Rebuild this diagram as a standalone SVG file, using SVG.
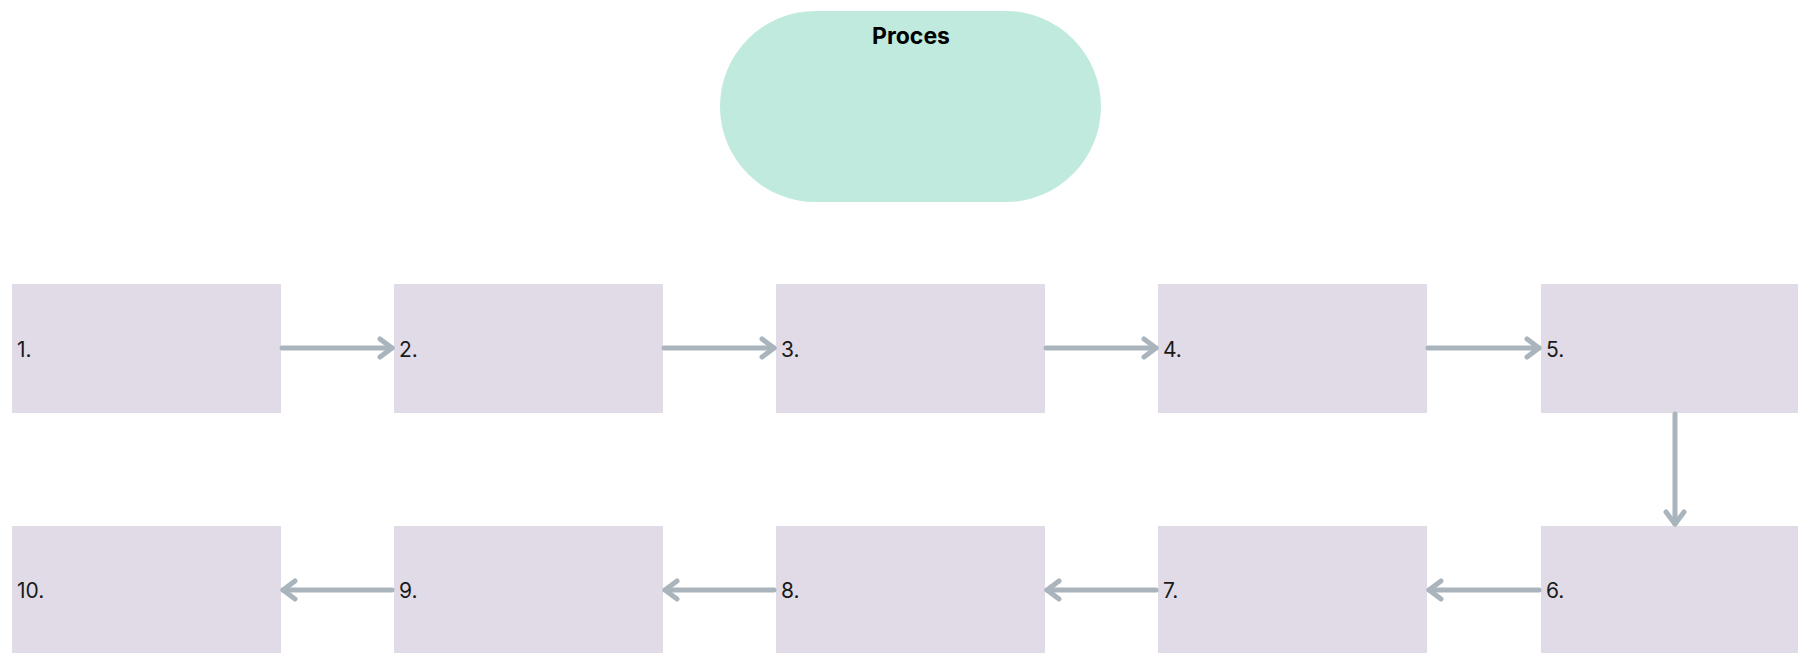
<svg xmlns="http://www.w3.org/2000/svg" width="1798" height="653" viewBox="0 0 1798 653">
<style>
.box{fill:#e0dbe6}
.lbl{font-family:Inter,"Liberation Sans",sans-serif;font-size:21px;fill:#1a1a1a}
.title{font-family:Inter,"Liberation Sans",sans-serif;font-size:23px;font-weight:bold;fill:#000;text-anchor:middle}
.con{stroke:#a9b4bc;stroke-width:5;fill:none;stroke-linecap:round;stroke-linejoin:round}
</style>
<defs>
<marker id="arr" viewBox="0 0 18 24" refX="15" refY="12" markerWidth="18" markerHeight="24" markerUnits="userSpaceOnUse" orient="auto">
<path d="M3,3 L15,12 L3,21" fill="none" stroke="#a9b4bc" stroke-width="5" stroke-linecap="round" stroke-linejoin="round"/>
</marker>
</defs>
<rect width="1798" height="653" fill="#fff"/>
<g id="title">
<rect x="720" y="11" width="381" height="191" rx="95.5" fill="#c0eadd"/>
<text class="title" x="911" y="44">Proces</text>
</g>
<g id="n1"><rect class="box" x="12" y="284" width="269" height="129"/><text class="lbl" x="17" y="357">1.</text></g>
<g id="n2"><rect class="box" x="394" y="284" width="269" height="129"/><text class="lbl" x="399" y="357">2.</text></g>
<g id="n3"><rect class="box" x="776" y="284" width="269" height="129"/><text class="lbl" x="781" y="357">3.</text></g>
<g id="n4"><rect class="box" x="1158" y="284" width="269" height="129"/><text class="lbl" x="1163" y="357">4.</text></g>
<g id="n5"><rect class="box" x="1541" y="284" width="269" height="129"/><text class="lbl" x="1546" y="357">5.</text></g>
<g id="n6"><rect class="box" x="1541" y="526" width="269" height="129"/><text class="lbl" x="1546" y="598">6.</text></g>
<g id="n7"><rect class="box" x="1158" y="526" width="269" height="129"/><text class="lbl" x="1163" y="598">7.</text></g>
<g id="n8"><rect class="box" x="776" y="526" width="269" height="129"/><text class="lbl" x="781" y="598">8.</text></g>
<g id="n9"><rect class="box" x="394" y="526" width="269" height="129"/><text class="lbl" x="399" y="598">9.</text></g>
<g id="n10"><rect class="box" x="12" y="526" width="269" height="129"/><text class="lbl" x="17" y="598">10.</text></g>
<g id="connectors">
<line class="con" x1="282" y1="348" x2="392" y2="348" marker-end="url(#arr)"/>
<line class="con" x1="664" y1="348" x2="774" y2="348" marker-end="url(#arr)"/>
<line class="con" x1="1046" y1="348" x2="1156" y2="348" marker-end="url(#arr)"/>
<line class="con" x1="1428" y1="348" x2="1539" y2="348" marker-end="url(#arr)"/>
<line class="con" x1="1675" y1="414" x2="1675" y2="524" marker-end="url(#arr)"/>
<line class="con" x1="1539" y1="590" x2="1429" y2="590" marker-end="url(#arr)"/>
<line class="con" x1="1156" y1="590" x2="1047" y2="590" marker-end="url(#arr)"/>
<line class="con" x1="774" y1="590" x2="665" y2="590" marker-end="url(#arr)"/>
<line class="con" x1="392" y1="590" x2="283" y2="590" marker-end="url(#arr)"/>
</g>
</svg>
